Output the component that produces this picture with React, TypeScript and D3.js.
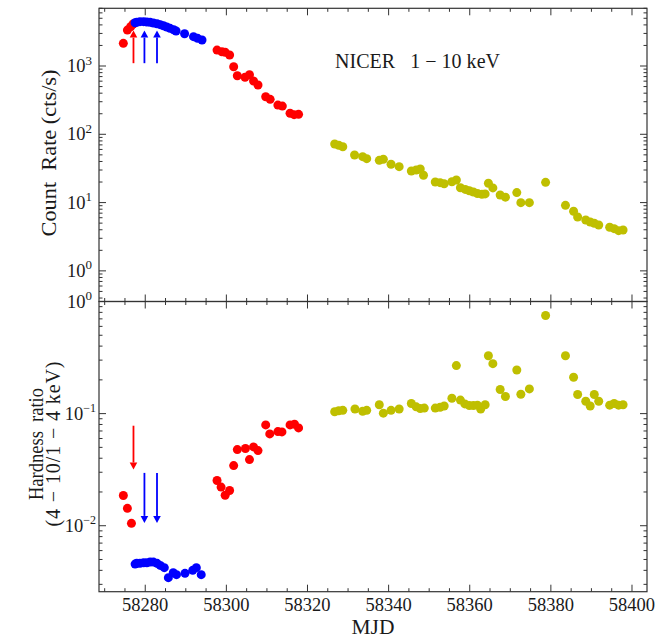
import React from "react";
import * as d3 from "d3";

// ---- Data ----
const rateRedMJD = [58274.6, 58275.6, 58276.4, 58277.0, 58297.7, 58298.9, 58299.7, 58300.8, 58301.8, 58302.7, 58304.6, 58305.7, 58306.7, 58307.8, 58309.7, 58310.8, 58312.7, 58313.8, 58315.7, 58316.7, 58317.8];
const rateRed = [2150, 3360, 3760, 4120, 1710, 1620, 1590, 1450, 977, 721, 684, 747, 603, 527, 355, 325, 268, 259, 203, 194, 196];
const rateBlueMJD = [58277.5, 58277.9, 58278.7, 58279.6, 58280.4, 58281.2, 58282.0, 58282.9, 58283.7, 58284.5, 58285.3, 58286.1, 58287.0, 58287.6, 58289.7, 58291.9, 58292.9, 58294.0];
const rateBlue = [4300, 4360, 4460, 4460, 4400, 4360, 4270, 4160, 4030, 3890, 3720, 3560, 3400, 3250, 2970, 2690, 2540, 2400];
const rateYellowMJD = [58326.7, 58327.7, 58328.7, 58331.6, 58333.6, 58334.6, 58337.7, 58338.7, 58340.6, 58342.6, 58345.6, 58346.8, 58347.8, 58348.6, 58351.5, 58352.7, 58353.7, 58355.6, 58356.7, 58357.7, 58358.9, 58359.9, 58360.9, 58361.9, 58363.0, 58363.8, 58364.6, 58365.7, 58367.5, 58368.8, 58371.6, 58372.6, 58374.7, 58378.7, 58383.6, 58385.6, 58386.6, 58388.6, 58389.7, 58390.7, 58391.8, 58394.5, 58395.6, 58396.7, 58397.8];
const rateYellow = [72.1, 69.0, 65.8, 49.8, 47.0, 44.0, 41.6, 43.1, 36.4, 33.6, 29.0, 30.0, 31.0, 25.1, 20.0, 19.6, 18.9, 20.2, 21.4, 16.5, 15.6, 14.9, 14.3, 13.6, 13.2, 13.4, 19.2, 16.4, 12.9, 12.0, 14.0, 9.97, 9.97, 19.8, 9.12, 7.46, 6.16, 5.56, 5.20, 4.98, 4.70, 4.35, 4.15, 3.88, 3.97];

const hrRedMJD = [58274.6, 58275.6, 58276.6, 58297.7, 58298.7, 58299.7, 58300.8, 58301.8, 58302.7, 58304.7, 58305.7, 58306.7, 58307.8, 58309.7, 58310.7, 58312.7, 58313.7, 58315.7, 58316.8, 58317.8];
const hrRed = [0.0186, 0.0143, 0.0105, 0.0253, 0.0221, 0.0187, 0.0206, 0.0344, 0.0478, 0.0488, 0.0389, 0.0505, 0.0468, 0.0793, 0.0659, 0.0691, 0.0687, 0.0793, 0.0803, 0.0746];
const hrBlueMJD = [58277.5, 58277.9, 58278.7, 58279.6, 58280.4, 58281.2, 58282.0, 58282.9, 58283.7, 58284.7, 58285.7, 58286.9, 58287.7, 58289.8, 58291.7, 58292.6, 58293.8];
const hrBlue = [0.00455, 0.00462, 0.00462, 0.00468, 0.00468, 0.00474, 0.00474, 0.00462, 0.00443, 0.00423, 0.00344, 0.00381, 0.00366, 0.00376, 0.00400, 0.00423, 0.00366];
const hrYellowMJD = [58326.7, 58327.7, 58328.7, 58331.7, 58333.6, 58334.6, 58337.7, 58338.7, 58340.6, 58342.6, 58345.6, 58346.8, 58347.8, 58348.8, 58351.5, 58352.7, 58353.7, 58355.6, 58356.7, 58357.7, 58358.8, 58359.9, 58360.9, 58361.9, 58362.7, 58363.8, 58364.6, 58365.7, 58367.5, 58368.8, 58371.6, 58372.6, 58374.7, 58378.7, 58383.6, 58385.6, 58386.6, 58388.6, 58389.7, 58390.7, 58391.8, 58394.5, 58395.6, 58396.7, 58397.8];
const hrYellow = [0.104, 0.106, 0.107, 0.110, 0.105, 0.107, 0.120, 0.101, 0.107, 0.110, 0.123, 0.115, 0.111, 0.112, 0.112, 0.114, 0.117, 0.137, 0.268, 0.132, 0.122, 0.118, 0.118, 0.119, 0.110, 0.120, 0.328, 0.279, 0.164, 0.142, 0.245, 0.149, 0.166, 0.750, 0.328, 0.211, 0.148, 0.129, 0.117, 0.148, 0.129, 0.119, 0.123, 0.119, 0.120];

const arrowMJD = [58277.1, 58279.8, 58282.9];
const arrowColors = ["#ff0000", "#0000ff", "#0000ff"];
const topArrowFrom = [1100, 1100, 1100];
const topArrowTo = [3300, 3300, 3300];
const botArrowFrom = [0.078, 0.0296, 0.0296];
const botArrowTo = [0.0317, 0.0106, 0.0106];

const xMajorTicks = [58280, 58300, 58320, 58340, 58360, 58380, 58400];
const topDecades = [0, 1, 2, 3];
const botDecades = [-2, -1, 0];

const RED = "#ff0000";
const BLUE = "#0000ff";
const YEL = "#bfbf00";
const FONT = "'Liberation Serif', 'DejaVu Serif', serif";
const AX = "#333333";
const TXT = "#1a1a1a";

export default function App() {
  const L = 99, R = 647;
  const topT = 8.3, mid = 301.5, botB = 591.7;
  const x = d3.scaleLinear().domain([58268.6, 58403.7]).range([L, R]);
  const yTop = d3.scaleLog().domain([0.356, 7000]).range([mid, topT]);
  const yBot = d3.scaleLog().domain([0.00258, 1]).range([botB, mid]);

  const xMinor = d3.range(58270, 58404, 5).filter((v) => v % 20 !== 0);

  const logMinor = (lo: number, hi: number, dom: number[]) => {
    const out: number[] = [];
    for (let e = lo; e <= hi; e++) {
      for (let m = 2; m <= 9; m++) {
        const v = m * Math.pow(10, e);
        if (v >= dom[0] && v <= dom[1]) out.push(v);
      }
    }
    return out;
  };
  const topMinor = logMinor(-1, 3, [0.356, 7000]);
  const botMinor = logMinor(-3, -1, [0.00258, 1]);

  const MAJ = 7, MIN = 3.5;

  const xTickMarks = (yEdge: number, dir: number, key: string) => (
    <g key={key}>
      {xMajorTicks.map((t) => (
        <line key={"M" + t} x1={x(t)} x2={x(t)} y1={yEdge} y2={yEdge + dir * MAJ} stroke={AX} strokeWidth={1} />
      ))}
      {xMinor.map((t) => (
        <line key={"m" + t} x1={x(t)} x2={x(t)} y1={yEdge} y2={yEdge + dir * MIN} stroke={AX} strokeWidth={1} />
      ))}
    </g>
  );

  const yTickMarks = (scale: any, decades: number[], minors: number[], key: string) => (
    <g key={key}>
      {decades.map((e) => {
        const yy = scale(Math.pow(10, e));
        return (
          <g key={"D" + e}>
            <line x1={L} x2={L + MAJ} y1={yy} y2={yy} stroke={AX} />
            <line x1={R} x2={R - MAJ} y1={yy} y2={yy} stroke={AX} />
          </g>
        );
      })}
      {minors.map((v, i) => {
        const yy = scale(v);
        return (
          <g key={"d" + i}>
            <line x1={L} x2={L + MIN} y1={yy} y2={yy} stroke={AX} />
            <line x1={R} x2={R - MIN} y1={yy} y2={yy} stroke={AX} />
          </g>
        );
      })}
    </g>
  );

  const yLabel = (yy: number, e: number, key: string) => (
    <text key={key} x={e < 0 ? 96 : 92} y={yy + 6} textAnchor="end" fontFamily={FONT} fontSize={18.5} fill={TXT}>
      10
      <tspan dy={-7.5} fontSize={e < 0 ? 12 : 13}>{e < 0 ? "\u2212" + Math.abs(e) : String(e)}</tspan>
    </text>
  );

  const dots = (xs: number[], ys: number[], scale: any, color: string, key: string) => (
    <g key={key}>
      {xs.map((m, i) => (
        <circle key={i} cx={x(m)} cy={scale(ys[i])} r={4.5} fill={color} />
      ))}
    </g>
  );

  const arrow = (xm: number, from: number, to: number, scale: any, color: string, key: string) => {
    const xx = x(xm);
    const y1 = scale(from);
    const y2 = scale(to);
    const dir = y2 < y1 ? -1 : 1;
    const hl = 7, hw = 3.8;
    return (
      <g key={key}>
        <line x1={xx} x2={xx} y1={y1} y2={y2 - dir * hl} stroke={color} strokeWidth={1.8} />
        <path d={`M${xx},${y2} L${xx - hw},${y2 - dir * hl} L${xx + hw},${y2 - dir * hl} Z`} fill={color} />
      </g>
    );
  };

  return (
    <svg width={668} height={637} style={{ position: "absolute", left: 0, top: 0 }}>
      <rect x={0} y={0} width={668} height={637} fill="#fff" />
      {/* points */}
      {dots(rateRedMJD, rateRed, yTop, RED, "tr")}
      {dots(rateBlueMJD, rateBlue, yTop, BLUE, "tb")}
      {dots(rateYellowMJD, rateYellow, yTop, YEL, "ty")}
      {dots(hrRedMJD, hrRed, yBot, RED, "br")}
      {dots(hrBlueMJD, hrBlue, yBot, BLUE, "bb")}
      {dots(hrYellowMJD, hrYellow, yBot, YEL, "by")}
      {/* arrows */}
      {arrowMJD.map((m, i) => arrow(m, topArrowFrom[i], topArrowTo[i], yTop, arrowColors[i], "ta" + i))}
      {arrowMJD.map((m, i) => arrow(m, botArrowFrom[i], botArrowTo[i], yBot, arrowColors[i], "ba" + i))}

      {/* frames */}
      <rect x={L} y={topT} width={R - L} height={mid - topT} fill="none" stroke={AX} strokeWidth={1.2} />
      <rect x={L} y={mid} width={R - L} height={botB - mid} fill="none" stroke={AX} strokeWidth={1.2} />
      {xTickMarks(topT, 1, "xt1")}
      {xTickMarks(mid, -1, "xt2")}
      {xTickMarks(mid, 1, "xt3")}
      {xTickMarks(botB, -1, "xt4")}
      {yTickMarks(yTop, topDecades, topMinor, "yt1")}
      {yTickMarks(yBot, botDecades, botMinor, "yt2")}

      {/* y tick labels */}
      {topDecades.map((e) => yLabel(yTop(Math.pow(10, e)), e, "tl" + e))}
      {botDecades.map((e) => yLabel(yBot(Math.pow(10, e)), e, "bl" + e))}

      {/* x tick labels */}
      {xMajorTicks.map((t) => (
        <text key={"xl" + t} x={x(t)} y={611} textAnchor="middle" fontFamily={FONT} fontSize={18.5} fill={TXT}>
          {t}
        </text>
      ))}
      <text x={(L + R) / 2} y={634} textAnchor="middle" fontFamily={FONT} fontSize={20} fill={TXT} textLength={43} lengthAdjust="spacingAndGlyphs">MJD</text>

      {/* axis titles */}
      <text transform="translate(56,153) rotate(-90)" textAnchor="middle" fontFamily={FONT} fontSize={20} fill={TXT} xmlSpace="preserve" textLength={167} lengthAdjust="spacingAndGlyphs">
        Count  Rate (cts/s)
      </text>
      <text transform="translate(43,444) rotate(-90)" textAnchor="middle" fontFamily={FONT} fontSize={20} fill={TXT} xmlSpace="preserve" textLength={112} lengthAdjust="spacingAndGlyphs">
        Hardness  ratio
      </text>
      <text transform="translate(60,444) rotate(-90)" textAnchor="middle" fontFamily={FONT} fontSize={20} fill={TXT} xmlSpace="preserve" textLength={165} lengthAdjust="spacing">
        (4 − 10/1 − 4 keV)
      </text>

      {/* annotation */}
      <text x={335} y={68} fontFamily={FONT} fontSize={20} fill={TXT} xmlSpace="preserve" textLength={165} lengthAdjust="spacing">
        NICER   1 − 10 keV
      </text>
    </svg>
  );
}
